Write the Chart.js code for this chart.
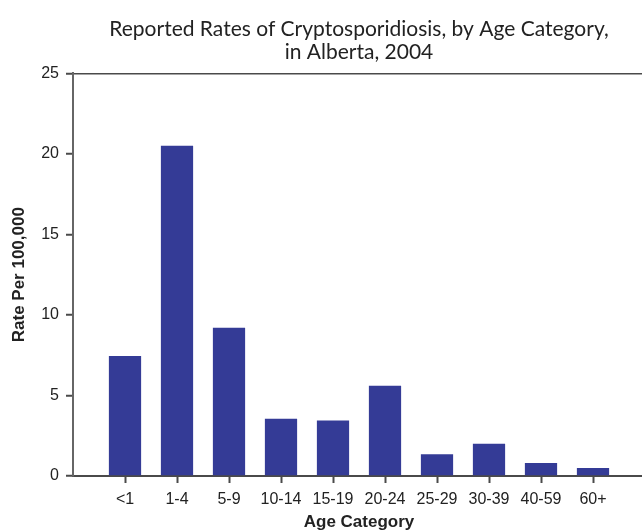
<!DOCTYPE html>
<html>
<head>
<meta charset="utf-8">
<script src="https://cdn.jsdelivr.net/npm/chart.js@4/dist/chart.umd.min.js"></script>
<style>
    html, body { margin: 0; padding: 0; background: #fff; overflow: hidden; }
    #wrap { width: 652px; height: 531px; }
</style>
</head>
<body>
<div id="wrap"><canvas id="rateChart"></canvas></div>
<script>
// Tassi riportati per fascia d'età (per 100.000 abitanti)
const ageCategories = ['<1', '1-4', '5-9', '10-14', '15-19', '20-24', '25-29', '30-39', '40-59', '60+'];
const ratePer100k = [7.45, 20.5, 9.2, 3.55, 3.45, 5.6, 1.35, 2.0, 0.8, 0.5];
const yTicks = [0, 5, 10, 15, 20, 25];

// Una categoria vuota ai due lati per lasciare spazio come nell'originale
const labels = [''].concat(ageCategories, ['']);
const values = [null].concat(ratePer100k, [null]);

const axisColor = '#4a4a4a';
const sansFamily = "'Liberation Sans', Arial, sans-serif";
const tickFont = { family: sansFamily, size: 16 };
const titleFont = { family: sansFamily, size: 17, weight: 'bold', lineHeight: 1 };

const ctx = document.getElementById('rateChart').getContext('2d');
new Chart(ctx, {
    type: 'bar',
    data: {
        labels: labels,
        datasets: [{
            data: values,
            backgroundColor: '#343b96',
            borderWidth: 0,
            categoryPercentage: 1,
            barPercentage: 0.62
        }]
    },
    options: {
        responsive: true,
        maintainAspectRatio: false,
        animation: false,
        layout: { padding: { right: 3 } },
        plugins: {
            legend: { display: false },
            tooltip: { enabled: false },
            title: {
                display: true,
                fullSize: false,
                text: ['Reported Rates of Cryptosporidiosis, by Age Category,', 'in Alberta, 2004'],
                color: '#222',
                font: { family: 'Lato, sans-serif', size: 21, weight: 'normal', lineHeight: 1.08 },
                padding: { top: 18, bottom: 10 }
            }
        },
        scales: {
            x: {
                offset: false,
                grid: {
                    offset: false,
                    color: 'rgba(0,0,0,0)',
                    drawOnChartArea: false,
                    drawTicks: true,
                    tickLength: 7,
                    tickWidth: 2,
                    tickColor: function(c) {
                        return c.index === 0 ? 'rgba(0,0,0,0)' : axisColor;
                    }
                },
                border: { display: true, color: axisColor, width: 2 },
                ticks: { color: '#222', font: tickFont, padding: 7, maxRotation: 0, autoSkip: false },
                title: { display: true, text: 'Age Category', color: '#222', font: titleFont, padding: { top: 0, bottom: 0 } },
                afterFit: function(scale) { scale.height = 55; }
            },
            y: {
                min: 0,
                max: 25,
                afterBuildTicks: function(scale) {
                    scale.ticks = yTicks.map(function(v) { return { value: v }; });
                },
                grid: {
                    // solo la linea superiore a 25 attraversa il grafico
                    color: function(c) { return c.tick && c.tick.value === 25 ? axisColor : 'rgba(0,0,0,0)'; },
                    lineWidth: 1.5,
                    tickLength: 7,
                    tickWidth: 2,
                    tickColor: axisColor
                },
                border: { display: true, color: '#666', width: 2 },
                ticks: { color: '#222', font: tickFont, padding: 7 },
                title: { display: true, text: 'Rate Per 100,000', color: '#222', font: titleFont, padding: { top: 11, bottom: 0 } },
                afterFit: function(scale) { scale.width = 73; }
            }
        }
    }
});
</script>
</body>
</html>
